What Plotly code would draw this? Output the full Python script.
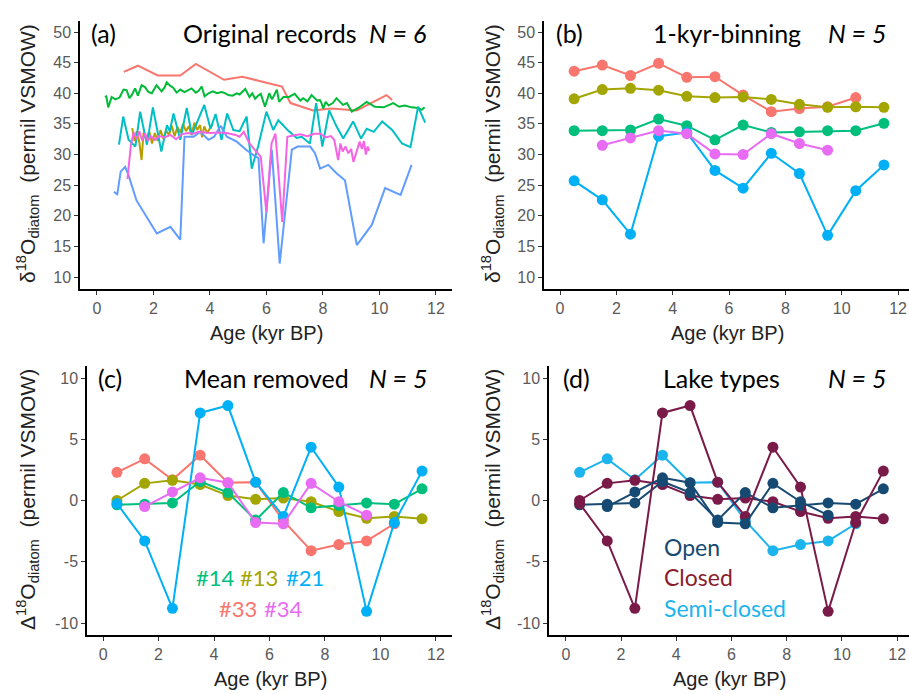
import plotly.graph_objects as go

W, H = 909, 694

# ---------------- Panel (a): original records ----------------
a_red_x = [0.95, 1.45, 2.15, 2.95, 3.5, 4.5, 5.15, 6.55, 6.85, 7.65, 8.3, 9.2, 10.25, 10.45]
a_red_y = [43.5, 44.5, 42.9, 42.9, 44.8, 42.2, 42.7, 41.1, 38.4, 37.2, 37.5, 37.2, 39.7, 38.9]

a_olive_x = [1.25, 1.33, 1.41, 1.5, 1.58, 1.65, 1.75, 1.85, 1.95, 2.05, 2.15, 2.25, 2.35, 2.45, 2.55,
             2.65, 2.75, 2.85, 2.95, 3.05, 3.15, 3.25, 3.35, 3.45, 3.55, 3.65, 3.72, 3.8, 3.9, 4.0, 4.1]
a_olive_y = [34.3, 32.2, 33.8, 32.0, 29.1, 33.6, 32.5, 33.8, 31.8, 33.5, 32.2, 34.0, 32.6, 33.9, 33.2,
             34.7, 33.0, 34.5, 33.6, 35.0, 33.8, 34.6, 33.2, 35.2, 34.0, 34.8, 32.8, 34.6, 33.5, 34.2, 35.0]

a_green_x = [0.28, 0.33, 0.40, 0.52, 0.65, 0.8, 0.94, 1.05, 1.15, 1.23, 1.35, 1.45, 1.58, 1.7, 1.82,
             1.94, 2.11, 2.2, 2.29, 2.4, 2.47, 2.6, 2.7, 2.82, 2.95, 3.1, 3.22, 3.35, 3.5, 3.6, 3.71,
             3.81, 3.95, 4.1, 4.25, 4.4, 4.5, 4.65, 4.8, 4.95, 5.05, 5.25, 5.4, 5.5, 5.6, 5.7, 5.8,
             5.95, 6.1, 6.2, 6.37, 6.45, 6.6, 6.8, 7.0, 7.2, 7.3, 7.45, 7.6, 7.8, 7.89, 7.95, 8.01,
             8.1, 8.2, 8.35, 8.48, 8.6, 8.71, 8.85, 9.02, 9.25, 9.55, 9.84, 10.15, 10.49, 10.7, 10.9,
             11.14, 11.37, 11.5, 11.6]
a_green_y = [39.4, 39.5, 37.7, 39.4, 39.0, 39.3, 40.6, 40.5, 39.2, 39.7, 40.8, 39.6, 41.3, 41.0, 40.2,
             40.0, 41.3, 40.8, 40.3, 41.0, 41.8, 41.2, 40.9, 40.1, 40.6, 40.2, 40.5, 40.8, 40.1, 40.4, 41.1,
             39.5, 40.0, 40.3, 40.0, 40.2, 40.1, 39.7, 39.6, 40.0, 39.8, 40.7, 39.4, 40.0, 39.1, 39.6, 39.9,
             37.8, 40.0, 39.0, 40.6, 38.6, 39.4, 39.4, 39.9, 38.8, 39.2, 38.7, 39.7, 38.8, 38.9, 38.4, 37.5,
             38.6, 38.0, 38.4, 39.2, 38.6, 38.1, 38.4, 37.0, 37.6, 38.6, 37.8, 37.7, 38.4, 37.8, 38.0,
             37.7, 37.6, 37.3, 37.7]

a_teal_x = [0.78, 0.93, 1.12, 1.36, 1.53, 1.77, 1.98, 2.28, 2.48, 2.58, 2.71, 2.95, 3.18, 3.36, 3.8,
            4.02, 4.2, 4.41, 4.61, 4.83, 5.05, 5.3, 5.48, 5.71, 6.0, 6.24, 6.42, 6.77, 7.07, 7.25,
            7.54, 7.76, 7.98, 8.22, 8.48, 8.72, 9.07, 9.35, 9.55, 9.8, 10.1, 10.45, 10.8, 11.1, 11.37, 11.62]
a_teal_y = [31.6, 36.2, 32.4, 31.3, 37.0, 31.6, 37.7, 30.5, 34.8, 33.8, 36.7, 32.4, 37.6, 33.2, 38.1,
            34.2, 36.6, 32.4, 36.7, 34.0, 33.8, 36.2, 27.7, 31.4, 37.0, 34.0, 35.6, 33.9, 32.7, 32.9,
            31.8, 38.4, 31.3, 37.2, 34.6, 32.6, 35.4, 32.6, 34.2, 33.7, 35.4, 34.0, 31.8, 31.2, 37.8, 35.2]

a_blue_x = [0.6, 0.72, 0.84, 1.0, 1.12, 1.4, 2.12, 2.6, 2.95, 3.1, 3.42, 3.65, 3.95, 4.15, 4.38, 4.6,
            4.95, 5.3, 5.6, 5.72, 5.9, 6.19, 6.47, 6.9, 7.1, 7.55, 7.72, 7.9, 8.19, 8.49, 8.78, 9.2,
            9.73, 10.2, 10.75, 11.14]
a_blue_y = [23.9, 23.5, 27.2, 28.0, 26.6, 22.5, 17.1, 18.2, 16.1, 32.9, 32.9, 33.7, 32.4, 32.9, 34.7, 32.9,
            32.1, 30.7, 29.7, 29.4, 15.5, 30.8, 12.2, 30.8, 31.3, 31.3, 30.2, 27.7, 28.3, 26.9, 25.8, 15.2,
            18.5, 24.5, 23.4, 28.3]

a_mag_x = [1.08, 1.2, 1.3, 1.4, 1.5, 1.6, 1.7, 1.8, 1.9, 2.05, 2.2, 2.4, 2.6, 2.8, 3.0, 3.2, 3.4, 3.6,
           3.8, 4.0, 4.3, 4.6, 4.9, 5.05, 5.2, 5.4, 5.8, 6.0, 6.18, 6.32, 6.56, 6.74, 6.95, 7.2, 7.45,
           7.7, 7.9, 8.1, 8.28, 8.4, 8.54, 8.62, 8.7, 8.8, 8.9, 9.0, 9.08, 9.18, 9.3, 9.38, 9.45, 9.52,
           9.58, 9.64]
a_mag_y = [26.0, 31.5, 33.6, 32.5, 33.8, 32.3, 33.5, 32.2, 33.0, 32.4, 33.0, 32.8, 33.2, 32.5, 33.3, 33.5,
           33.4, 33.7, 33.6, 33.5, 33.6, 33.5, 33.2, 32.9, 33.7, 31.8, 29.6, 20.6, 31.8, 33.4, 19.0, 32.9,
           33.1, 33.3, 33.0, 33.4, 33.4, 32.8, 33.0, 32.4, 29.1, 31.8, 30.5, 31.3, 30.2, 30.9, 28.8, 30.4,
           32.1, 30.9, 32.2, 30.0, 31.3, 30.6]

# ---------------- Panel (b): 1-kyr binning ----------------
bin_x = [0.5, 1.5, 2.5, 3.5, 4.5, 5.5, 6.5, 7.5, 8.5, 9.5, 10.5, 11.5]
b_33 = [43.6, 44.6, 42.9, 44.9, 42.6, 42.7, 39.7, 37.0, 37.5, 37.8, 39.3, None]
b_13 = [39.1, 40.6, 40.8, 40.5, 39.5, 39.3, 39.4, 39.0, 38.2, 37.7, 37.8, 37.7]
b_14 = [33.9, 33.9, 34.0, 35.8, 34.7, 32.4, 34.8, 33.6, 33.7, 33.9, 33.9, 35.1]
b_21 = [25.7, 22.6, 17.0, 33.0, 33.6, 27.4, 24.5, 30.2, 26.9, 16.8, 24.1, 28.3]
b_34 = [None, 31.5, 32.7, 33.9, 33.4, 30.1, 30.0, 33.4, 31.8, 30.7, None, None]

# ---------------- Panel (c)/(d): mean removed ----------------
c_33 = [2.3, 3.4, 1.7, 3.7, 1.45, 1.5, -1.65, -4.1, -3.6, -3.3, -1.9, None]
c_13 = [0.0, 1.4, 1.65, 1.3, 0.4, 0.1, 0.2, -0.1, -0.9, -1.45, -1.3, -1.5]
c_14 = [-0.35, -0.3, -0.2, 1.55, 0.65, -1.6, 0.65, -0.6, -0.4, -0.2, -0.3, 0.95]
c_21 = [-0.25, -3.3, -8.8, 7.15, 7.75, 1.5, -1.3, 4.35, 1.1, -9.05, -1.8, 2.4]
c_34 = [None, -0.5, 0.7, 1.85, 1.45, -1.8, -1.9, 1.4, -0.1, -1.2, None, None]

lake_type = {"#33": "Semi-closed", "#13": "Closed", "#14": "Open", "#21": "Closed", "#34": "Open"}

y_ticks_ab = [10, 15, 20, 25, 30, 35, 40, 45, 50]
y_ticks_cd = [-10, -5, 0, 5, 10]
y_ticktext_cd = ["-10", "-5", "0", "5", "10"]
x_ticks = [0, 2, 4, 6, 8, 10, 12]

C6 = {"red": "#F8766D", "olive": "#B79F00", "green": "#00BA38", "teal": "#00BFC4",
      "blue": "#619CFF", "mag": "#F564E3"}
C5 = {"#33": "#F8766D", "#13": "#A3A500", "#14": "#00BF7D", "#21": "#00B0F6", "#34": "#E76BF3"}
CL = {"Open": "#174A73", "Closed": "#7A1A48", "Semi-closed": "#1CB4EC"}

fig = go.Figure()

for xs, ys, col in [(a_red_x, a_red_y, C6["red"]), (a_olive_x, a_olive_y, C6["olive"]),
                    (a_green_x, a_green_y, C6["green"]), (a_teal_x, a_teal_y, C6["teal"]),
                    (a_blue_x, a_blue_y, C6["blue"]), (a_mag_x, a_mag_y, C6["mag"])]:
    fig.add_trace(go.Scatter(x=xs, y=ys, mode="lines", line=dict(color=col, width=2),
                             xaxis="x", yaxis="y", showlegend=False))

b_series = [("#33", b_33), ("#13", b_13), ("#14", b_14), ("#21", b_21), ("#34", b_34)]
c_series = [("#33", c_33), ("#13", c_13), ("#14", c_14), ("#21", c_21), ("#34", c_34)]

MS = 11
for name, ys in b_series:
    fig.add_trace(go.Scatter(x=bin_x, y=ys, mode="lines+markers", line=dict(color=C5[name], width=2),
                             marker=dict(size=MS, color=C5[name]), xaxis="x2", yaxis="y2",
                             showlegend=False))
for name, ys in c_series:
    fig.add_trace(go.Scatter(x=bin_x, y=ys, mode="lines+markers", line=dict(color=C5[name], width=2),
                             marker=dict(size=MS, color=C5[name]), xaxis="x3", yaxis="y3",
                             showlegend=False))
for name, ys in c_series:
    col = CL[lake_type[name]]
    fig.add_trace(go.Scatter(x=bin_x, y=ys, mode="lines+markers", line=dict(color=col, width=2),
                             marker=dict(size=MS, color=col), xaxis="x4", yaxis="y4",
                             showlegend=False))


def px_x(p):
    return p / W


def px_y(p):
    return 1 - p / H


tickfont = dict(family="Liberation Sans, Arial, sans-serif", size=16, color="#5a5a5a")


def xax(l, r, rng, anchor):
    return dict(domain=[px_x(l), px_x(r)], range=rng, anchor=anchor, tickvals=x_ticks,
                showline=True, linecolor="black", linewidth=1.5, ticks="outside", ticklen=4,
                tickcolor="#333", tickwidth=1, showgrid=False, zeroline=False, tickfont=tickfont)


def yax(t, b, rng, anchor, tv, tt=None):
    d = dict(domain=[px_y(b), px_y(t)], range=rng, anchor=anchor, tickvals=tv,
             showline=True, linecolor="black", linewidth=1.5, ticks="outside", ticklen=4,
             tickcolor="#333", tickwidth=1, showgrid=False, zeroline=False, tickfont=tickfont)
    if tt:
        d["ticktext"] = tt
    return d


fig.update_layout(
    width=W, height=H, margin=dict(l=0, r=0, t=0, b=0),
    paper_bgcolor="white", plot_bgcolor="white",
    xaxis=xax(80, 452, [-0.6, 12.57], "y"),
    yaxis=yax(21, 289, [8.04, 51.8], "x", y_ticks_ab),
    xaxis2=xax(544, 909, [-0.57, 12.39], "y2"),
    yaxis2=yax(21, 289, [8.04, 51.8], "x2", y_ticks_ab),
    xaxis3=xax(87, 452, [-0.58, 12.58], "y3"),
    yaxis3=yax(366, 635, [-10.98, 10.98], "x3", y_ticks_cd, y_ticktext_cd),
    xaxis4=xax(549, 909, [-0.61, 12.43], "y4"),
    yaxis4=yax(366, 635, [-10.98, 10.98], "x4", y_ticks_cd, y_ticktext_cd),
)

TF = "Lato, Carlito, Calibri, sans-serif"
AF = "Liberation Sans, Arial, sans-serif"


def ann(text, x, y, size=25, color="black", family=TF, xanchor="left", angle=0, style="normal"):
    fig.add_annotation(text=text, x=px_x(x), y=px_y(y), xref="paper", yref="paper",
                       showarrow=False, xanchor=xanchor, yanchor="middle", textangle=angle,
                       font=dict(family=family, size=size, color=color, style=style))


# panel labels and titles
ann("(a)", 89, 33)
ann("Original records", 181, 33)
ann("N = 6", 367, 33, style="italic")
ann("(b)", 554, 33)
ann("1-kyr-binning", 651, 33)
ann("N = 5", 826, 33, style="italic")
ann("(c)", 96, 378)
ann("Mean removed", 182, 378)
ann("N = 5", 367, 378, style="italic")
ann("(d)", 561, 378)
ann("Lake types", 661, 378)
ann("N = 5", 826, 378, style="italic")

# x axis titles
for cx, cy in [(266, 333), (727, 333), (270, 679), (729, 679)]:
    ann("Age (kyr BP)", cx, cy, size=20, family=AF, xanchor="center", color="#222")

# y axis titles
yt_ab = "δ<sup>18</sup>O<sub>diatom</sub>  (permil VSMOW)"
yt_cd = "Δ<sup>18</sup>O<sub>diatom</sub>  (permil VSMOW)"
ann(yt_ab, 27, 154, size=21, family=AF, xanchor="center", angle=-90, color="#222")
ann(yt_ab, 492, 154, size=21, family=AF, xanchor="center", angle=-90, color="#222")
ann(yt_cd, 27, 500, size=21, family=AF, xanchor="center", angle=-90, color="#222")
ann(yt_cd, 492, 500, size=21, family=AF, xanchor="center", angle=-90, color="#222")

# legends (c)
ann("#14", 194, 577, size=22, color=C5["#14"])
ann("#13", 238, 577, size=22, color=C5["#13"])
ann("#21", 284, 577, size=22, color=C5["#21"])
ann("#33", 217, 608, size=22, color=C5["#33"])
ann("#34", 262, 608, size=22, color=C5["#34"])
# legends (d)
ann("Open", 662, 547, size=23, color=CL["Open"])
ann("Closed", 662, 577, size=23, color="#8B1D2C")
ann("Semi-closed", 662, 608, size=23, color=CL["Semi-closed"])

fig.write_html("out.html")
